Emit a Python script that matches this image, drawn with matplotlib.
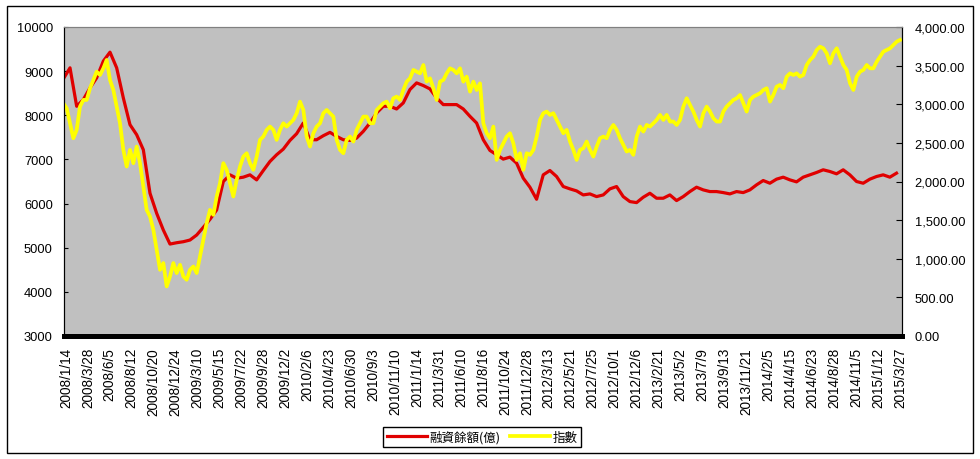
import numpy as np
import matplotlib
matplotlib.use('Agg')
import matplotlib.pyplot as plt
from matplotlib.patches import Rectangle
from matplotlib.ticker import FuncFormatter

plt.rcParams['font.family'] = ['Liberation Sans', 'DejaVu Sans']

# category labels on the x axis (Excel style, evenly spaced)
date_labels = ['2008/1/14', '2008/3/28', '2008/6/5', '2008/8/12', '2008/10/20', '2008/12/24',
               '2009/3/10', '2009/5/15', '2009/7/22', '2009/9/28', '2009/12/2', '2010/2/6',
               '2010/4/23', '2010/6/30', '2010/9/3', '2010/11/10', '2011/1/14', '2011/3/31',
               '2011/6/10', '2011/8/16', '2011/10/24', '2011/12/28', '2012/3/13', '2012/5/21',
               '2012/7/25', '2012/10/1', '2012/12/6', '2013/2/21', '2013/5/2', '2013/7/9',
               '2013/9/13', '2013/11/21', '2014/2/5', '2014/4/15', '2014/6/23', '2014/8/28',
               '2014/11/5', '2015/1/12', '2015/3/27']

# 融資餘額(億), left axis
margin_vals = [8825, 9075, 8204, 8356, 8621, 8848, 9227, 9430, 9075, 8393,
               7787, 7560, 7219, 6234, 5780, 5401, 5083, 5113, 5136, 5174,
               5287, 5462, 5643, 5855, 6500, 6651, 6575, 6598, 6651, 6537,
               6749, 6954, 7106, 7234, 7431, 7583, 7825, 7446, 7446, 7537,
               7613, 7522, 7446, 7431, 7484, 7636, 7825, 8053, 8204, 8204,
               8143, 8280, 8583, 8734, 8674, 8598, 8393, 8242, 8242, 8242,
               8143, 7977, 7825, 7446, 7204, 7106, 7007, 7052, 6916, 6575,
               6371, 6098, 6651, 6749, 6613, 6386, 6333, 6287, 6196, 6219,
               6158, 6196, 6333, 6386, 6158, 6045, 6022, 6143, 6234, 6121,
               6121, 6196, 6068, 6158, 6272, 6371, 6310, 6272, 6272, 6249,
               6219, 6272, 6249, 6310, 6424, 6522, 6461, 6553, 6598, 6537,
               6492, 6598, 6651, 6704, 6765, 6727, 6674, 6765, 6651, 6500,
               6461, 6553, 6613, 6651, 6598, 6689]

# 指數, right axis
index_vals = [3013, 2948, 2754, 2560, 2668, 2970, 3056, 3056, 3207, 3314,
              3422, 3379, 3465, 3573, 3314, 3185, 2970, 2754, 2409, 2194,
              2409, 2237, 2452, 2237, 1935, 1633, 1547, 1375, 1116, 857,
              944, 642, 771, 944, 815, 922, 771, 728, 857, 900,
              815, 1030, 1245, 1461, 1633, 1569, 1806, 1978, 2237, 2151,
              1978, 1806, 2021, 2194, 2323, 2366, 2237, 2151, 2323, 2539,
              2582, 2668, 2711, 2668, 2539, 2668, 2754, 2711, 2754, 2797,
              2884, 3034, 2926, 2582, 2452, 2625, 2711, 2754, 2884, 2926,
              2884, 2840, 2539, 2409, 2366, 2539, 2582, 2517, 2668, 2754,
              2840, 2840, 2754, 2754, 2926, 2970, 3013, 3034, 2948, 3077,
              3099, 3056, 3185, 3293, 3336, 3444, 3422, 3400, 3508, 3293,
              3336, 3207, 3056, 3293, 3314, 3400, 3465, 3444, 3400, 3465,
              3293, 3357, 3163, 3293, 3185, 3271, 2754, 2625, 2560, 2711,
              2280, 2409, 2495, 2582, 2625, 2495, 2280, 2366, 2151, 2366,
              2345, 2409, 2582, 2797, 2884, 2905, 2862, 2884, 2797, 2711,
              2625, 2668, 2517, 2409, 2280, 2409, 2431, 2517, 2409, 2323,
              2452, 2560, 2582, 2560, 2668, 2732, 2668, 2560, 2474, 2388,
              2409, 2345, 2582, 2711, 2646, 2732, 2711, 2754, 2797, 2862,
              2797, 2862, 2776, 2776, 2732, 2797, 2970, 3077, 2991, 2905,
              2797, 2711, 2884, 2970, 2905, 2819, 2776, 2776, 2905, 2970,
              3013, 3056, 3077, 3120, 3013, 2905, 3056, 3099, 3120, 3142,
              3185, 3207, 3034, 3120, 3228, 3250, 3207, 3357, 3400, 3379,
              3400, 3357, 3379, 3508, 3573, 3616, 3702, 3745, 3724, 3659,
              3530, 3659, 3724, 3616, 3508, 3444, 3271, 3185, 3357, 3422,
              3444, 3508, 3465, 3465, 3551, 3616, 3681, 3702, 3724, 3767,
              3810, 3832]

x_margin = np.linspace(-0.12, 37.84, len(margin_vals))
x_index = np.linspace(-0.12, 38.0, len(index_vals))

fig = plt.figure(figsize=(9.8, 4.6), dpi=100)
fig.patches.append(Rectangle((7 / 980, 6 / 460), 966 / 980, 447 / 460, transform=fig.transFigure,
                             fill=False, edgecolor='black', linewidth=1.0))

ax = fig.add_axes([64 / 980, 1 - 337 / 460, 838 / 980, 309 / 460])
ax.set_facecolor('#C0C0C0')
line1, = ax.plot(x_margin, margin_vals, color='#E00000', linewidth=2.3, label='融資餘額(億)')
ax.set_ylim(3000, 10000)
ax.set_yticks(range(3000, 10001, 1000))
ax.set_xlim(-0.09, 38.09)
ax.set_xticks(range(len(date_labels)))
ax.set_xticklabels(date_labels, rotation=90, fontsize=9.8)
ax.tick_params(axis='y', direction='in', length=3, labelsize=9.3, pad=8)
ax.tick_params(axis='x', length=0, pad=8)

ax2 = ax.twinx()
line2, = ax2.plot(x_index, index_vals, color='#FFFF00', linewidth=2.7, label='指數')
ax2.set_ylim(0, 4000)
ax2.set_yticks(range(0, 4001, 500))
ax2.yaxis.set_major_formatter(FuncFormatter(lambda v, p: f'{v:,.2f}'))
ax2.tick_params(axis='y', direction='in', length=4, labelsize=9.3, pad=9)

for a in (ax, ax2):
    a.spines['top'].set_color('#808080')
    a.spines['left'].set_color('black')
    a.spines['right'].set_color('black')
    a.spines['bottom'].set_color('black')
    a.spines['bottom'].set_linewidth(3.5)

leg = fig.legend(handles=[line1, line2], loc='center', bbox_to_anchor=(482 / 980, 1 - 438 / 460),
                 ncol=2, frameon=True, fancybox=False, edgecolor='black', framealpha=1,
                 prop={'family': ['Noto Sans CJK TC', 'DejaVu Sans'], 'size': 9},
                 handlelength=3.2, handletextpad=0.2, columnspacing=0.8, borderpad=0.3)
leg.get_frame().set_linewidth(1.0)

fig.savefig('out.png', dpi=100)
